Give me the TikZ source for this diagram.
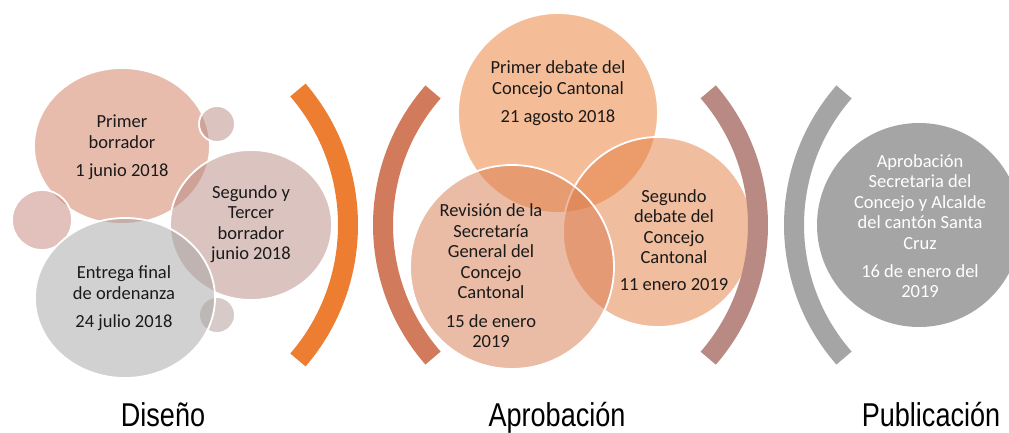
\documentclass[tikz,border=0pt]{standalone}
\usepackage{fontspec}
\setmainfont{Carlito}
\newfontfamily\narrowfont[FakeStretch=0.82]{Liberation Sans}
\definecolor{cA}{HTML}{ED7D31}
\definecolor{cB}{HTML}{D17B5C}
\definecolor{cC}{HTML}{B98A83}
\definecolor{cD}{HTML}{A5A5A5}
\definecolor{cL}{HTML}{C7857A}
\definecolor{cS}{HTML}{AF9894}
\definecolor{cRev}{HTML}{D97A4D}
\definecolor{cSeg}{HTML}{E27C3F}
\definecolor{txtc}{HTML}{1A1A1A}
\begin{document}
\begin{tikzpicture}[x=1pt,y=-1pt,
  bubble/.style={draw=white, line width=1.8pt, fill opacity=0.5},
  txt/.style={align=center, text=txtc, font=\fontsize{18.5}{20.5}\selectfont, inner sep=0pt},
  band/.style={line width=20pt, line cap=butt},
  lbl/.style={font=\narrowfont\fontsize{33}{36}\selectfont, anchor=base, inner sep=0pt, text=black}]
\useasboundingbox (0,0) rectangle (1009,433);
\clip (0,0) rectangle (1009,433);
\fill[white] (0,0) rectangle (1009,433);
% centres
\coordinate (pbC) at (122,146);
\coordinate (stC) at (251,225);
\coordinate (efC) at (125,298);
\coordinate (sLC) at (42,220);
\coordinate (sTC) at (217,124);
\coordinate (sBC) at (217,315);
\coordinate (pdC) at (558,113);
\coordinate (sdC) at (658,232);
\coordinate (rvC) at (512,267);
\coordinate (puC) at (919,225);
\coordinate (a1C) at (141,225);
\coordinate (a2C) at (585,225);
\coordinate (a3C) at (555,225);
\coordinate (a4C) at (996,225);
% design group
\path[bubble, fill=cB] (pbC) ellipse[x radius=88, y radius=78];
\path[bubble, fill=cC] (sTC) circle[radius=18];
\path[bubble, fill=cL] (sLC) circle[radius=30];
\path[bubble, fill=cC] (stC) ellipse[x radius=81, y radius=75];
\path[bubble, fill=cS] (sBC) circle[radius=18];
\path[bubble, fill=cD] (efC) ellipse[x radius=90, y radius=80];
% approval group
\path[bubble, fill=cA] (pdC) circle[radius=100];
\path[bubble, fill=cSeg] (sdC) circle[radius=95];
\path[bubble, fill=cRev] (rvC) circle[radius=102];
% publication
\path[fill=cD] (puC) circle[radius=102];
% bands
\draw[band, cA] ([shift={(-40.7:207)}]a1C) arc[start angle=-40.7, end angle=40.7, radius=207];
\draw[band, cB] ([shift={(138.8:202)}]a2C) arc[start angle=138.8, end angle=221.2, radius=202];
\draw[band, cC] ([shift={(-41:203)}]a3C) arc[start angle=-41, end angle=41, radius=203];
\draw[band, cD] ([shift={(138.8:202)}]a4C) arc[start angle=138.8, end angle=221.2, radius=202];
% texts
\node[txt] (t1) at (122,147) {Primer\\borrador\\[7.5pt]1 junio 2018};
\node[txt] (t2) at (251,224) {Segundo y\\Tercer\\borrador\\junio 2018};
\node[txt] (t3) at (124,298) {Entrega final\\de ordenanza\\[7.5pt]24 julio 2018};
\node[txt] (t4) at (558,93) {Primer debate del\\Concejo Cantonal\\[7.5pt]21 agosto 2018};
\node[txt] (t5) at (491,276) {Revisión de la\\Secretaría\\General del\\Concejo\\Cantonal\\[8pt]15 de enero\\2019};
\node[txt] (t6) at (674,240) {Segundo\\debate del\\Concejo\\Cantonal\\[6.5pt]11 enero 2019};
\node[txt, text=white] (t7) at (920,226) {Aprobación\\Secretaria del\\Concejo y Alcalde\\del cantón Santa\\Cruz\\[7.5pt]16 de enero del\\2019};
% labels
\node[lbl] (l1) at (163,426) {Diseño};
\node[lbl] (l2) at (557,426) {Aprobación};
\node[lbl] (l3) at (931,426) {Publicación};
\end{tikzpicture}
\end{document}
